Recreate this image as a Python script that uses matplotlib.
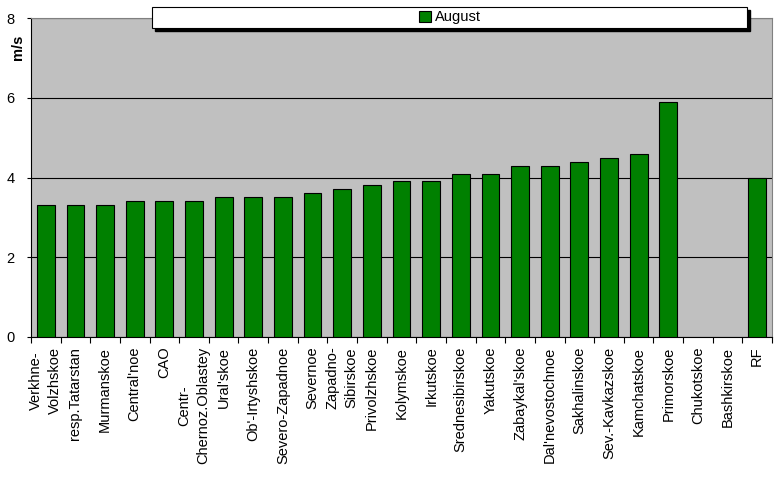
import matplotlib
matplotlib.use('Agg')
import matplotlib.pyplot as plt
from matplotlib.patches import Rectangle
import numpy as np

plt.rcParams['font.family'] = ['Liberation Sans', 'DejaVu Sans']

regions = ['Verkhne-\nVolzhskoe', 'resp.Tatarstan', 'Murmanskoe', "Central'noe", 'CAO',
           'Centr-\nChernoz.Oblastey', "Ural'skoe", "Ob'-Irtyshskoe", 'Severo-Zapadnoe',
           'Severnoe', 'Zapadno-\nSibirskoe', 'Privolzhskoe', 'Kolymskoe', 'Irkutskoe',
           'Srednesibirskoe', 'Yakutskoe', "Zabaykal'skoe", "Dal'nevostochnoe",
           'Sakhalinskoe', 'Sev.-Kavkazskoe', 'Kamchatskoe', 'Primorskoe', 'Chukotskoe',
           'Bashkirskoe', 'RF']
august = [3.3, 3.3, 3.3, 3.4, 3.4, 3.4, 3.5, 3.5, 3.5, 3.6, 3.7, 3.8, 3.9, 3.9,
          4.1, 4.1, 4.3, 4.3, 4.4, 4.5, 4.6, 5.9, np.nan, np.nan, 4.0]
yticks = [0, 2, 4, 6, 8]

fig = plt.figure(figsize=(7.77, 4.79), dpi=100)
ax = fig.add_axes([31/777, 1-337/479, (772-31)/777, (337-18)/479])
ax.set_facecolor('#C0C0C0')

x = np.arange(len(regions))
ax.bar(x, august, width=0.6, color='#008000', edgecolor='black', linewidth=0.8,
       label='August', zorder=3)

ax.set_xlim(-0.5, len(regions) - 0.5)
ax.set_ylim(0, 8)
ax.set_yticks(yticks)
ax.yaxis.grid(True, color='black', linewidth=0.8, zorder=1)
ax.set_axisbelow(True)

ax.set_xticks(x)
ax.set_xticklabels(regions, rotation=90, fontsize=10.5, ha='center', va='top',
                   multialignment='center', linespacing=1.45)
ax.tick_params(axis='x', length=0, pad=7)
ax.set_xticks(np.arange(len(regions) + 1) - 0.5, minor=True)
ax.tick_params(axis='x', which='minor', length=4, width=0.8, direction='out')
ax.tick_params(axis='y', length=3, width=0.8, pad=9, labelsize=10.5)

for s in ['left', 'bottom']:
    ax.spines[s].set_color('black')
    ax.spines[s].set_linewidth(0.8)
for s in ['top', 'right']:
    ax.spines[s].set_color('#808080')
    ax.spines[s].set_linewidth(0.8)

fig.text(0.023, 1-47/479, 'm/s', rotation=90, fontsize=10.5, fontweight='bold',
         ha='center', va='center')

# legend box with shadow
bx, by, bw, bh = 152/777, 1-28/479, (747-152)/777, 21/479
fig.patches.append(Rectangle((bx + 3/777, by - 3/479), bw, bh, transform=fig.transFigure,
                             facecolor='black', edgecolor='black', zorder=4))
fig.patches.append(Rectangle((bx, by), bw, bh, transform=fig.transFigure,
                             facecolor='white', edgecolor='black', linewidth=0.8, zorder=5))
handles, labels = ax.get_legend_handles_labels()
leg = fig.legend(handles, labels, loc='center', bbox_to_anchor=(450/777, 1-17.5/479),
                 frameon=False, fontsize=10.5, handlelength=0.8, handleheight=0.8,
                 handletextpad=0.3)
leg.set_zorder(6)

fig.savefig('out.png', dpi=100)
